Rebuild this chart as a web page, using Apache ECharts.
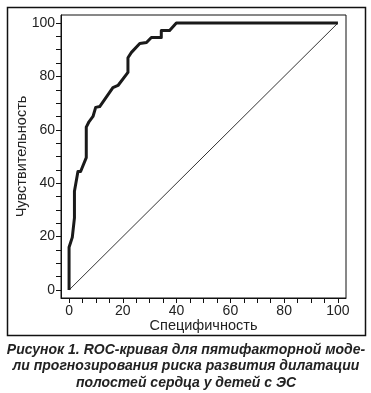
<!DOCTYPE html>
<html>
<head>
<meta charset="utf-8">
<script src="https://cdn.jsdelivr.net/npm/echarts@6/dist/echarts.min.js"></script>
<style>
html,body{margin:0;padding:0;background:#fff;}
#c{width:371px;height:393px;}
</style>
</head>
<body>
<div id="c"></div>
<script>
// 100 - specificity (x) and sensitivity (y) of ROC curve
const rocX = [0, 0, 1.2, 2, 2, 3.3, 4.3, 6.4, 6.4, 7.4, 8.9, 9.9, 11.4, 16.3, 18.2, 21.9, 21.9, 23.2, 26.3, 28.8, 30.6, 34.3, 34.3, 37.4, 39.9, 100];
const rocY = [0, 16, 19.7, 27, 37, 44.4, 44.4, 49.6, 61, 63, 65, 68.4, 68.7, 75.8, 76.6, 81.5, 87, 89, 92.3, 92.7, 94.6, 94.6, 97.2, 97.2, 100, 100];
const refX = [0, 100];
const refY = [0, 100];
const labelTicks = [0, 20, 40, 60, 80, 100];
const minorTicks = [0, 5, 10, 15, 20, 25, 30, 35, 40, 45, 50, 55, 60, 65, 70, 75, 80, 85, 90, 95, 100];
const xName = 'Специфичность';
const yName = 'Чувствительность';
const captionLines = [
  'Рисунок 1. ROC-кривая для пятифакторной моде-',
  'ли прогнозирования риска развития дилатации',
  'полостей сердца у детей с ЭС'
];

const chart = echarts.init(document.getElementById('c'), null, {renderer: 'canvas'});
const font = 'Liberation Sans, Arial, sans-serif';
function axisCommon(name, gap) {
  return {
    type: 'value', min: -3, max: 103,
    name: name, nameLocation: 'middle', nameGap: gap, nameMoveOverlap: false,
    nameTextStyle: {fontFamily: font, fontSize: 14.5, color: '#222'},
    axisLine: {show: true, onZero: false, lineStyle: {color: '#111', width: 1}},
    axisTick: {show: true, customValues: minorTicks, length: 5, lineStyle: {color: '#111', width: 1}},
    axisLabel: {customValues: labelTicks, fontFamily: font, fontSize: 14, color: '#222', margin: 6},
    splitLine: {show: false}
  };
}
const option = {
  animation: false,
  grid: {left: 61, top: 15, right: 25, bottom: 95, show: true, borderColor: '#111', borderWidth: 1, containLabel: false},
  xAxis: axisCommon(xName, 20),
  yAxis: axisCommon(yName, 32),
  series: [
    {type: 'line', data: refX.map((v, i) => [v, refY[i]]), symbol: 'none',
     lineStyle: {color: '#333', width: 1}, silent: true},
    {type: 'line', data: rocX.map((v, i) => [v, rocY[i]]), symbol: 'none',
     lineStyle: {color: '#1a1a1a', width: 3, join: 'round'}, silent: true}
  ],
  graphic: [
    {type: 'rect', shape: {x: 7.5, y: 7.5, width: 358, height: 328},
     style: {fill: null, stroke: '#111', lineWidth: 1.5}},
    ...captionLines.map((t, i) => ({
      type: 'text', x: 186, y: 350 + i * 16.5,
      style: {text: t, fill: '#222', font: 'italic bold 14px ' + font, textAlign: 'center', textVerticalAlign: 'middle'}
    }))
  ]
};
chart.setOption(option);
</script>
</body>
</html>
